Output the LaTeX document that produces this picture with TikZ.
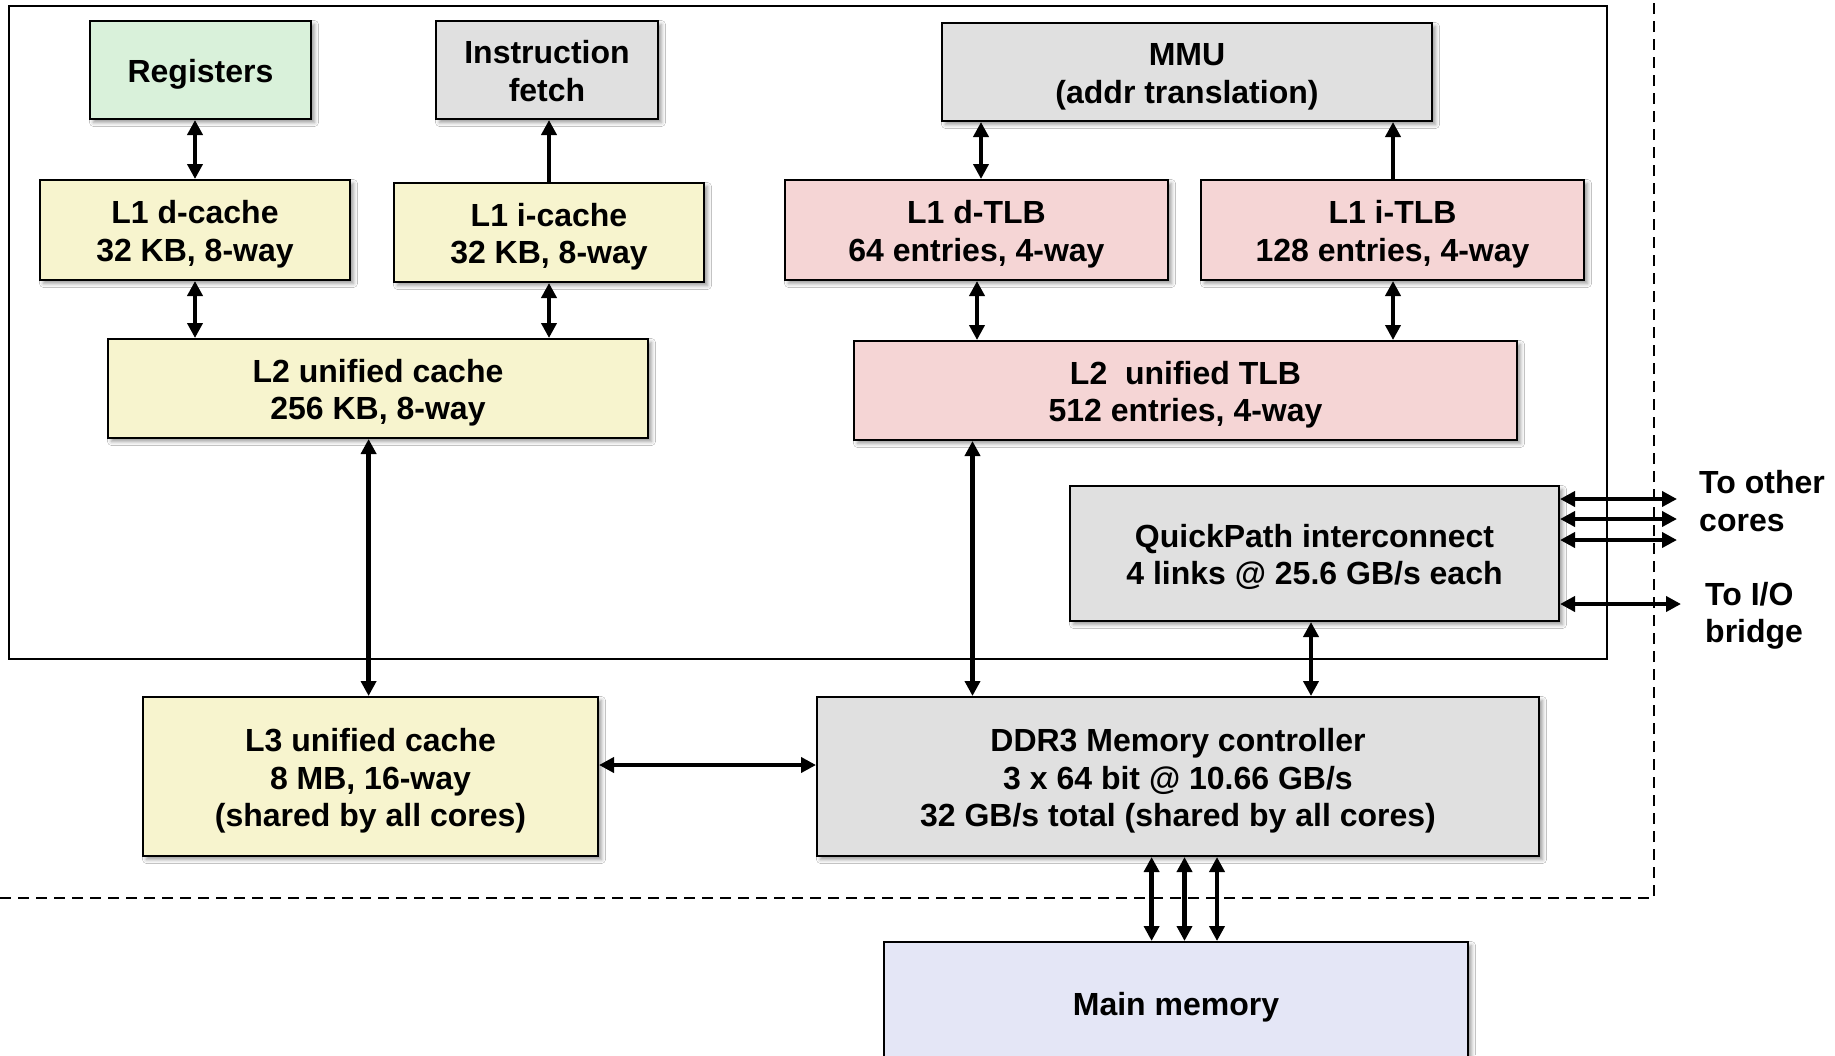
\documentclass[tikz,border=0pt]{standalone}
\usepackage{fontspec}
\setmainfont{Liberation Sans}
\usetikzlibrary{arrows.meta,shadows,shadows.blur}
\definecolor{cgreen}{RGB}{217,241,218}
\definecolor{cgray}{RGB}{224,224,224}
\definecolor{cyel}{RGB}{247,244,206}
\definecolor{cpink}{RGB}{245,213,213}
\definecolor{clav}{RGB}{228,230,246}
\tikzset{
  lbl/.style={font=\fontsize{32}{37.5}\selectfont\bfseries, align=center, inner sep=0pt},
  box/.style={lbl, draw=black, line width=2pt, text height=32pt, text depth=6.7pt,
    blur shadow={shadow xshift=3.5pt, shadow yshift=-3.5pt, shadow blur radius=4pt}},
  twolines/.style={text height=69.5pt},
  threelines/.style={text height=107pt},
  dbl/.style={line width=4.5pt, {Triangle[length=15pt,width=15pt]}-{Triangle[length=15pt,width=15pt]}},
  sgl/.style={line width=4.5pt, -{Triangle[length=15pt,width=15pt]}},
  sz/.style 2 args={minimum width=#1pt, minimum height=#2pt},
}
\begin{document}
\begin{tikzpicture}[x=1pt,y=-1pt]
\useasboundingbox (0,0) rectangle (1835,1055);
\clip (0,0) rectangle (1835,1055);
\fill[white] (0,0) rectangle (1835,1055);

% outer core box and dashed chip boundary
\draw[line width=2pt] (9,6) rectangle (1607,659);
\draw[line width=2pt, dash pattern=on 11pt off 7pt] (0,898) -- (1654,898) -- (1654,0);

% boxes
\node[box, fill=cgreen, sz={221}{98}] (reg) at (200.5,70) {Registers};
\node[box, twolines, fill=cgray, sz={222}{98}] (ifetch) at (547,70) {Instruction\\fetch};
\node[box, twolines, fill=cgray, sz={490}{98}] (mmu) at (1187,72) {MMU\\(addr translation)};
\node[box, twolines, fill=cyel, sz={310}{100}] (l1d) at (195,230) {L1 d-cache\\32 KB, 8-way};
\node[box, twolines, fill=cyel, sz={310}{99}] (l1i) at (549,232.5) {L1 i-cache\\32 KB, 8-way};
\node[box, twolines, fill=cpink, sz={383}{100}] (dtlb) at (976.5,230) {L1 d-TLB\\64 entries, 4-way};
\node[box, twolines, fill=cpink, sz={383}{100}] (itlb) at (1392.5,230) {L1 i-TLB\\128 entries, 4-way};
\node[box, twolines, fill=cyel, sz={540}{99}] (l2) at (378,388.5) {L2 unified cache\\256 KB, 8-way};
\node[box, twolines, fill=cpink, sz={663}{99}] (l2tlb) at (1185.5,390.5) {L2~ unified TLB\\512 entries, 4-way};
\node[box, twolines, fill=cgray, sz={489}{135}] (qp) at (1314.5,553.5) {QuickPath interconnect\\4 links @ 25.6 GB/s each};
\node[box, threelines, fill=cyel, sz={455}{159}] (l3) at (370.5,776.5) {L3 unified cache\\8 MB, 16-way\\(shared by all cores)};
\node[box, threelines, fill=cgray, sz={722}{159}] (ddr) at (1178,776.5) {DDR3 Memory controller\\3 x 64 bit @ 10.66 GB/s\\32 GB/s total (shared by all cores)};
\node[box, fill=clav, sz={584}{122}] (mem) at (1176,1003) {Main memory};

% side labels
\node[lbl, align=left, anchor=west] (toc) at (1699,501) {To other\\cores};
\node[lbl, align=left, anchor=west] (tio) at (1705,616) {To I/O\\bridge};

% positions of links
\coordinate (xa) at (368.6,0);
\coordinate (xb) at (972.5,0);
\coordinate (xc) at (1311,0);
\coordinate (xd) at (981,0);
\coordinate (xe) at (1393,0);
\coordinate (xf) at (977,0);
\coordinate (m1) at (1151.6,0);
\coordinate (m2) at (1184.5,0);
\coordinate (m3) at (1217,0);
\coordinate (yl) at (0,765);
\coordinate (o1) at (1677,499);
\coordinate (o2) at (1677,519);
\coordinate (o3) at (1677,540);
\coordinate (o4) at (1681,604);

% connectors
\draw[dbl] (l1d.north) -- (l1d.north |- reg.south);
\draw[sgl] (l1i.north) -- (l1i.north |- ifetch.south);
\draw[dbl] (l1d.south) -- (l1d.south |- l2.north);
\draw[dbl] (l1i.south) -- (l1i.south |- l2.north);
\draw[dbl] (dtlb.north -| xd) -- (mmu.south -| xd);
\draw[sgl] (itlb.north -| xe) -- (mmu.south -| xe);
\draw[dbl] (dtlb.south -| xf) -- (l2tlb.north -| xf);
\draw[dbl] (itlb.south -| xe) -- (l2tlb.north -| xe);
\draw[dbl] (l2.south -| xa) -- (l3.north -| xa);
\draw[dbl] (l2tlb.south -| xb) -- (ddr.north -| xb);
\draw[dbl] (qp.south -| xc) -- (ddr.north -| xc);
\draw[dbl] (l3.east |- yl) -- (ddr.west |- yl);
\draw[dbl] (ddr.south -| m1) -- (mem.north -| m1);
\draw[dbl] (ddr.south -| m2) -- (mem.north -| m2);
\draw[dbl] (ddr.south -| m3) -- (mem.north -| m3);
\draw[dbl] (qp.east |- o1) -- (o1);
\draw[dbl] (qp.east |- o2) -- (o2);
\draw[dbl] (qp.east |- o3) -- (o3);
\draw[dbl] (qp.east |- o4) -- (o4);
\end{tikzpicture}
\end{document}
